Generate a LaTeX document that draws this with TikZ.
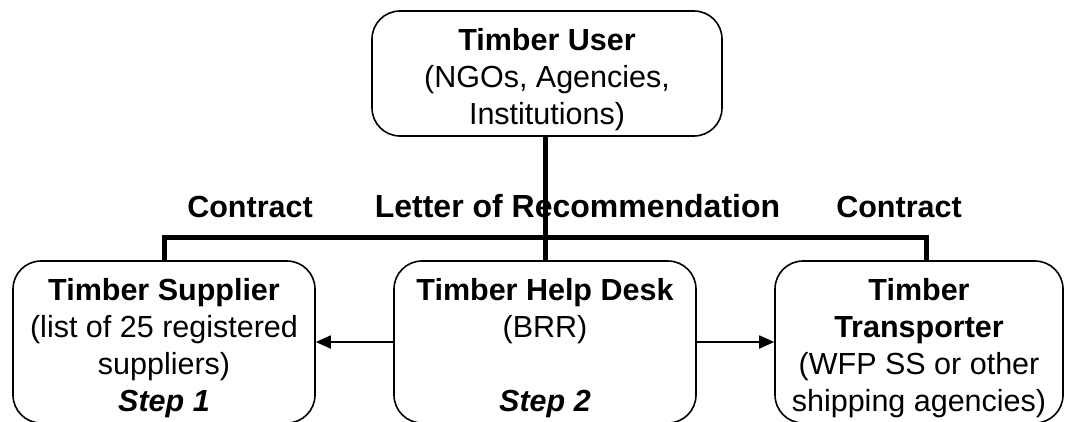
\documentclass[tikz,border=0pt]{standalone}
\usepackage{fontspec}
\setmainfont{Liberation Sans}
\usetikzlibrary{arrows.meta}
\newcommand{\firstline}{\rule{0pt}{34pt}}
\begin{document}
\begin{tikzpicture}[x=1pt,y=-1pt,
  box/.style={draw, line width=1.6pt, rounded corners=28pt, align=center, inner sep=0pt,
    font=\fontsize{30.5}{37}\selectfont},
  link/.style={line width=5pt, line join=miter},
  arr/.style={line width=1.8pt, -{Triangle[length=15pt,width=13pt]}},
  lab/.style={font=\fontsize{30.5}{37}\selectfont\bfseries, anchor=base, inner sep=0pt}]
\useasboundingbox (0,0) rectangle (1065,421);
\clip (0,0) rectangle (1065,421);
\node[box, minimum width=350pt, minimum height=125pt] (user) at (547,73.5)
  {\firstline\textbf{Timber User}\\(NGOs, Agencies,\\Institutions)};
\node[box, minimum width=302pt, minimum height=162pt] (supplier) at (164,342)
  {\firstline\textbf{Timber Supplier}\\(list of 25 registered\\suppliers)\\\textbf{\textit{Step 1}}};
\node[box, minimum width=302pt, minimum height=162pt] (desk) at (545,342)
  {\firstline\textbf{Timber Help Desk}\\(BRR)\\\mbox{}\\\textbf{\textit{Step 2}}};
\node[box, minimum width=288pt, minimum height=162pt] (transport) at (919,342)
  {\firstline\textbf{Timber}\\\textbf{Transporter}\\(WFP SS or other\\shipping agencies)};
\coordinate (bar) at (546,237);
\coordinate (legR) at (926,261);
\draw[link] (desk.north |- user.south) -- (desk.north);
\draw[link] (supplier.north) -- (supplier.north |- bar) -- (legR |- bar) -- (transport.north -| legR);
\node[lab] (c1) at (250,217) {Contract};
\node[lab, font=\fontsize{32}{37}\selectfont\bfseries] (lor) at (577.5,217) {Letter of Recommendation};
\node[lab] (c2) at (899,217) {Contract};
\draw[arr] (desk.west |- 0,342) -- (supplier.east |- 0,342);
\draw[arr] (desk.east |- 0,342) -- (transport.west |- 0,342);
\end{tikzpicture}
\end{document}
